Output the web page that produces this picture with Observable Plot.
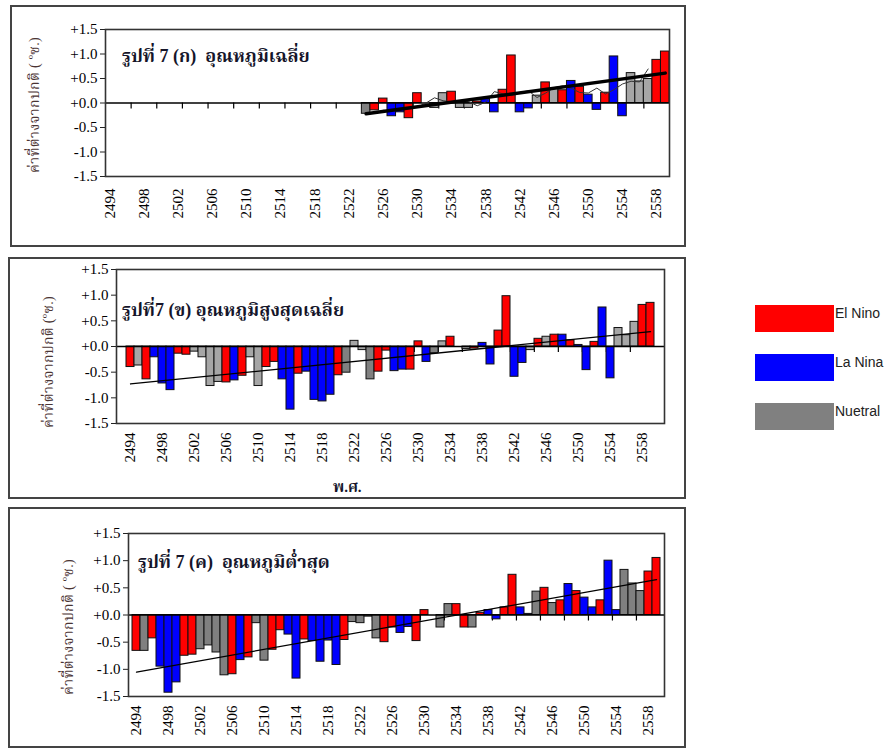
<!DOCTYPE html>
<html><head><meta charset="utf-8">
<script src="https://cdn.jsdelivr.net/npm/d3@7"></script>
<script src="https://cdn.jsdelivr.net/npm/@observablehq/plot@0.6"></script>
<style>
html,body{margin:0;padding:0;background:#fff;}
body{width:894px;height:749px;position:relative;overflow:hidden;font-family:"Liberation Serif","Noto Serif Thai","Noto Sans Thai",serif;}
.box{position:absolute;border:2px solid #444;box-sizing:border-box;}
.chart{position:absolute;}
.ptitle{position:absolute;font-weight:bold;font-size:18px;line-height:1;color:#15152a;white-space:pre;}
.ytitle{position:absolute;transform:translate(-50%,-50%) rotate(-90deg);font-size:14px;letter-spacing:0.3px;line-height:1;color:#4a3434;white-space:pre;}
.sw{position:absolute;width:79px;height:27px;}
.lt{position:absolute;font-family:"Liberation Sans",Arial,sans-serif;font-size:14px;line-height:1;color:#222;}
.xt{position:absolute;font-weight:bold;font-size:15px;line-height:1;color:#15152a;}
</style></head><body>
<script>
// ---------- data ----------
const years = [2494,2495,2496,2497,2498,2499,2500,2501,2502,2503,2504,2505,2506,2507,2508,2509,2510,2511,2512,2513,2514,2515,2516,2517,2518,2519,2520,2521,2522,2523,2524,2525,2526,2527,2528,2529,2530,2531,2532,2533,2534,2535,2536,2537,2538,2539,2540,2541,2542,2543,2544,2545,2546,2547,2548,2549,2550,2551,2552,2553,2554,2555,2556,2557,2558,2559];
const labelYears = [2494,2498,2502,2506,2510,2514,2518,2522,2526,2530,2534,2538,2542,2546,2550,2554,2558];
const yTicks = [1.5,1,0.5,0,-0.5,-1,-1.5];

const ensoCodes = ["E","L","N","n"];
const ensoColors = ["#ff0000","#0000ff","#808080","#a6a6a6"];
const legendNames = ["El Nino","La Nina","Nuetral"];

// (ก) mean temperature anomaly, 2524-2559
const meanStartYear = 2524;
const meanValues = [-0.22,-0.15,0.09,-0.27,-0.19,-0.31,0.20,0.00,-0.10,0.20,0.23,-0.10,-0.10,0.03,0.08,-0.19,0.27,0.97,-0.19,-0.11,0.15,0.42,0.29,0.26,0.45,0.33,0.17,-0.14,0.21,0.95,-0.27,0.61,0.44,0.49,0.88,1.05];
const meanTypes = ["N","E","E","L","L","E","E","L","n","n","E","n","n","E","L","L","E","E","L","L","n","E","n","E","L","E","L","L","E","L","L","n","n","n","E","E"];
const meanTrendYears = [2524,2559];
const meanTrend = [-0.22,0.61];

// (ข) mean maximum temperature anomaly
const maxValues = [-0.40,-0.37,-0.64,-0.21,-0.72,-0.85,-0.14,-0.16,-0.10,-0.21,-0.77,-0.69,-0.70,-0.66,-0.57,-0.21,-0.77,-0.40,-0.30,-0.64,-1.23,-0.53,-0.49,-1.04,-1.07,-0.94,-0.56,-0.51,0.11,-0.07,-0.64,-0.49,-0.08,-0.48,-0.45,-0.45,0.10,-0.30,-0.13,0.10,0.19,0.00,-0.05,-0.04,0.07,-0.35,0.31,0.98,-0.59,-0.32,-0.07,0.15,0.19,0.23,0.23,0.12,0.03,-0.46,0.09,0.76,-0.62,0.36,0.22,0.48,0.81,0.85];
const maxTypes = ["E","n","E","L","L","L","E","E","n","n","n","n","E","L","E","n","n","E","E","L","L","E","L","L","L","L","E","N","n","n","N","E","E","L","L","E","E","L","N","n","E","n","n","E","L","L","E","E","L","L","n","E","n","E","L","E","L","L","E","L","L","n","n","n","E","E"];
const maxTrendYears = [2494,2559];
const maxTrend = [-0.73,0.29];

// (ค) minimum temperature anomaly
const minValues = [-0.66,-0.66,-0.43,-0.95,-1.43,-1.24,-0.75,-0.73,-0.63,-0.56,-0.69,-1.11,-1.09,-0.83,-0.78,-0.15,-0.84,-0.64,-0.28,-0.36,-1.17,-0.45,-0.48,-0.86,-0.47,-0.92,-0.46,-0.13,-0.15,-0.03,-0.43,-0.50,-0.23,-0.33,-0.22,-0.48,0.09,0.00,-0.23,0.20,0.20,-0.23,-0.23,0.04,0.09,-0.08,0.14,0.74,0.14,0.02,0.43,0.50,0.22,0.27,0.57,0.44,0.32,0.14,0.27,1.00,0.09,0.83,0.58,0.44,0.80,1.05];
const minTypes = ["E","N","E","L","L","L","E","E","N","N","N","N","E","L","E","N","N","E","E","L","L","E","L","L","L","L","E","N","N","N","N","E","E","L","L","E","E","L","N","N","E","E","N","E","L","L","E","E","L","L","N","E","N","E","L","E","L","L","E","L","L","N","N","N","E","E"];
const minTrendYears = [2494,2559];
const minTrend = [-1.05,0.65];

// ---------- drawing ----------
const fmtY = d => (d >= 0 ? "+" : "") + d.toFixed(1);
const boundaryYears = years.filter((y, i) => i > 0 && i % 3 === 0);

function makePanel(cfg) {
  const start = years.indexOf(cfg.startYear);
  const data = cfg.values.map((v, i) => ({year: years[start + i], value: v, type: cfg.types[i]}));
  const trend = cfg.trendYears.map((y, i) => ({year: y, value: cfg.trend[i]}));
  const iw = cfg.width - cfg.ml - cfg.mr;
  const step = iw / years.length;
  const marks = [
    Plot.ruleX(boundaryYears, {x: d => d, y1: 0, y2: 0, insetBottom: -6, dx: -step / 2, stroke: "#000", strokeWidth: 1.2}),
    Plot.barY(data, {x: "year", y: "value", fill: "type", stroke: "#111", strokeWidth: 1}),
    Plot.ruleY([0], {stroke: "#000", strokeWidth: 1.3})
  ];
  if (cfg.window) {
    marks.push(Plot.lineY(data, Plot.windowY({k: 5, anchor: "middle", strict: true, reduce: V => V.length === 5 ? d3.mean(V) : NaN}, {x: "year", y: "value", stroke: "#333", strokeWidth: 1})));
  }
  marks.push(Plot.lineY(trend, {x: "year", y: "value", stroke: "#000", strokeWidth: cfg.trendWidth}));
  marks.push(Plot.axisY({ticks: yTicks, tickFormat: fmtY, tickSize: 5, tickPadding: 3, fontSize: 15, label: null, stroke: "#222"}));
  marks.push(Plot.axisX({ticks: labelYears, tickFormat: d => String(d), tickRotate: -90, tickSize: 0, tickPadding: cfg.xpad, fontSize: 15, label: null}));
  marks.push(Plot.frame({stroke: "#333", strokeWidth: 1.6}));
  return Plot.plot({
    width: cfg.width, height: cfg.height,
    marginLeft: cfg.ml, marginRight: cfg.mr, marginTop: cfg.mt, marginBottom: cfg.mb,
    x: {type: "band", domain: years, padding: 0},
    y: {domain: [-1.5, 1.5]},
    color: {domain: ensoCodes, range: ensoColors},
    style: {fontFamily: "Liberation Serif", color: "#000", background: "transparent", overflow: "visible"},
    marks
  });
}

const panels = [
  {left: 10, top: 5, width: 676, height: 242, ml: 95, mr: 17, mt: 24, mb: 71, xpad: 12,
   startYear: meanStartYear, values: meanValues, types: meanTypes, trendYears: meanTrendYears, trend: meanTrend, trendWidth: 3.5, window: true,
   title: "รูปที่ 7 (ก)  อุณหภูมิเฉลี่ย", tx: 122, ty: 47, ylab: "ค่าที่ต่างจากปกติ ( ºซ.)", yx: 35, yy: 105},
  {left: 8, top: 257, width: 678, height: 242, ml: 108, mr: 22, mt: 12, mb: 76, xpad: 9,
   startYear: 2494, values: maxValues, types: maxTypes, trendYears: maxTrendYears, trend: maxTrend, trendWidth: 1.3, window: false,
   title: "รูปที่7 (ข) อุณหภูมิสูงสุดเฉลี่ย", tx: 122, ty: 301, ylab: "ค่าที่ต่างจากปกติ (ºซ.)", yx: 49, yy: 362},
  {left: 8, top: 507, width: 678, height: 241, ml: 120, mr: 22, mt: 26, mb: 52, xpad: 9,
   startYear: 2494, values: minValues, types: minTypes, trendYears: minTrendYears, trend: minTrend, trendWidth: 1.3, window: false,
   title: "รูปที่ 7 (ค)  อุณหภูมิต่ำสุด", tx: 138, ty: 553, ylab: "ค่าที่ต่างจากปกติ ( ºซ.)", yx: 69, yy: 627}
];

for (const p of panels) {
  const box = document.createElement("div");
  box.className = "box";
  Object.assign(box.style, {left: p.left + "px", top: p.top + "px", width: p.width + "px", height: p.height + "px"});
  document.body.appendChild(box);
  const holder = document.createElement("div");
  holder.className = "chart";
  Object.assign(holder.style, {left: p.left + "px", top: p.top + "px"});
  holder.appendChild(makePanel(p));
  document.body.appendChild(holder);
  const t = document.createElement("div");
  t.className = "ptitle"; t.textContent = p.title;
  Object.assign(t.style, {left: p.tx + "px", top: p.ty + "px"});
  document.body.appendChild(t);
  const yl = document.createElement("div");
  yl.className = "ytitle"; yl.textContent = p.ylab;
  Object.assign(yl.style, {left: p.yx + "px", top: p.yy + "px"});
  document.body.appendChild(yl);
}

const xt = document.createElement("div");
xt.className = "xt"; xt.textContent = "พ.ศ.";
Object.assign(xt.style, {left: "333px", top: "480px"});
document.body.appendChild(xt);

legendNames.forEach((name, i) => {
  const top = 305 + i * 49;
  const sw = document.createElement("div");
  sw.className = "sw";
  Object.assign(sw.style, {left: "755px", top: top + "px", background: ensoColors[i]});
  document.body.appendChild(sw);
  const lt = document.createElement("div");
  lt.className = "lt"; lt.textContent = name;
  Object.assign(lt.style, {left: "835px", top: (top + 1) + "px"});
  document.body.appendChild(lt);
});
</script>
</body></html>
